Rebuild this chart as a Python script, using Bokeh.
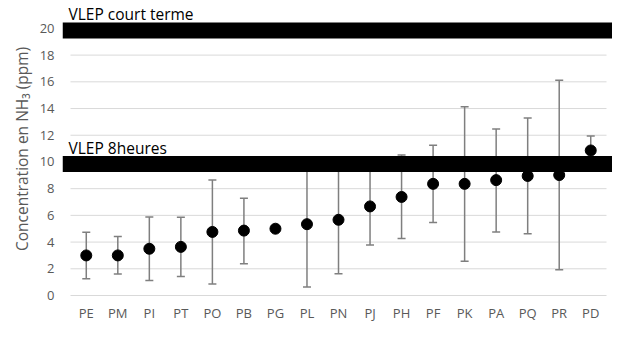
from bokeh.plotting import figure
from bokeh.models import Range1d, FixedTicker, Label, Whisker, ColumnDataSource, TeeHead
from bokeh.embed import file_html
from bokeh.resources import INLINE

# ---- data ----
categories = ["PE", "PM", "PI", "PT", "PO", "PB", "PG", "PL", "PN", "PJ",
              "PH", "PF", "PK", "PA", "PQ", "PR", "PD"]
mean_ppm = [3.0, 3.0, 3.5, 3.64, 4.76, 4.86, 5.0, 5.34, 5.67, 6.67,
            7.38, 8.36, 8.36, 8.64, 8.95, 9.02, 10.86]
upper_ppm = [4.74, 4.41, 5.88, 5.86, 8.64, 7.29, None, 10.04, 9.72, 9.55,
             10.53, 11.25, 14.14, 12.46, 13.29, 16.12, 11.95]
lower_ppm = [1.26, 1.61, 1.12, 1.43, 0.86, 2.38, None, 0.64, 1.62, 3.79,
             4.26, 5.47, 2.57, 4.76, 4.62, 1.93, 9.77]
vlep_levels = [20, 10]
vlep_labels = ["VLEP court terme", "VLEP 8heures"]
y_ticks = [0, 2, 4, 6, 8, 10, 12, 14, 16, 18, 20]

FONT = "Open Sans"
n = len(categories)
xpos = [i + 0.5 for i in range(n)]

X0, X1 = -0.254, 17.19
Y0, Y1 = -0.15, 22.09

p = figure(width=612, height=324, output_backend="svg", toolbar_location=None,
           x_range=Range1d(X0, X1), y_range=Range1d(Y0, Y1),
           min_border_left=62, min_border_right=0, min_border_top=0,
           min_border_bottom=26)
p.outline_line_color = None
p.xgrid.visible = False
p.ygrid.visible = False
p.background_fill_color = "white"
p.border_fill_color = "white"

# horizontal gridlines spanning the category area only
p.segment(x0=[0] * len(y_ticks), x1=[n] * len(y_ticks), y0=y_ticks, y1=y_ticks,
          line_color="#d9d9d9", line_width=1, level="image")

# error bars
wx = [x for x, u in zip(xpos, upper_ppm) if u is not None]
wu = [u for u in upper_ppm if u is not None]
wl = [l for l in lower_ppm if l is not None]
wsrc = ColumnDataSource(dict(x=wx, upper=wu, lower=wl))
grey = "#7f7f7f"
whisk = Whisker(base="x", upper="upper", lower="lower", source=wsrc,
                line_color=grey, line_width=1.5, level="underlay",
                upper_head=TeeHead(size=8, line_color=grey, line_width=1.5),
                lower_head=TeeHead(size=8, line_color=grey, line_width=1.5))
p.add_layout(whisk)

# VLEP thick bands
p.hbar(y=[v - 0.15 for v in vlep_levels], height=1.2, left=X0, right=X1,
       fill_color="black", line_color=None)

# points
p.scatter(xpos, mean_ppm, size=11, color="black", marker="circle")

# VLEP labels
for lvl, txt in zip(vlep_levels, vlep_labels):
    p.add_layout(Label(x=0, y=lvl, x_offset=-2, y_offset=14, text=txt,
                       text_font=FONT, text_font_size="15.5px", text_color="black",
                       text_baseline="alphabetic", text_align="left"))

# axes
for ax in (p.xaxis, p.yaxis):
    ax.axis_line_color = None
    ax.major_tick_line_color = None
    ax.minor_tick_line_color = None
    ax.major_tick_out = 0
    ax.major_tick_in = 0
    ax.major_label_text_font = FONT
    ax.major_label_text_font_size = "13px"
    ax.major_label_text_color = "#595959"

p.yaxis.ticker = FixedTicker(ticks=y_ticks)
p.yaxis.major_label_standoff = 8
p.yaxis.axis_label = "Concentration en NH\u2083 (ppm)"
p.yaxis.axis_label_text_font = FONT
p.yaxis.axis_label_text_font_size = "15.5px"
p.yaxis.axis_label_text_font_style = "normal"
p.yaxis.axis_label_text_color = "#595959"
p.yaxis.axis_label_standoff = 4

p.xaxis.ticker = FixedTicker(ticks=xpos)
p.xaxis.major_label_overrides = {x: c for x, c in zip(xpos, categories)}
p.xaxis.major_label_standoff = 6

open("out.html", "w").write(file_html(p, INLINE))
